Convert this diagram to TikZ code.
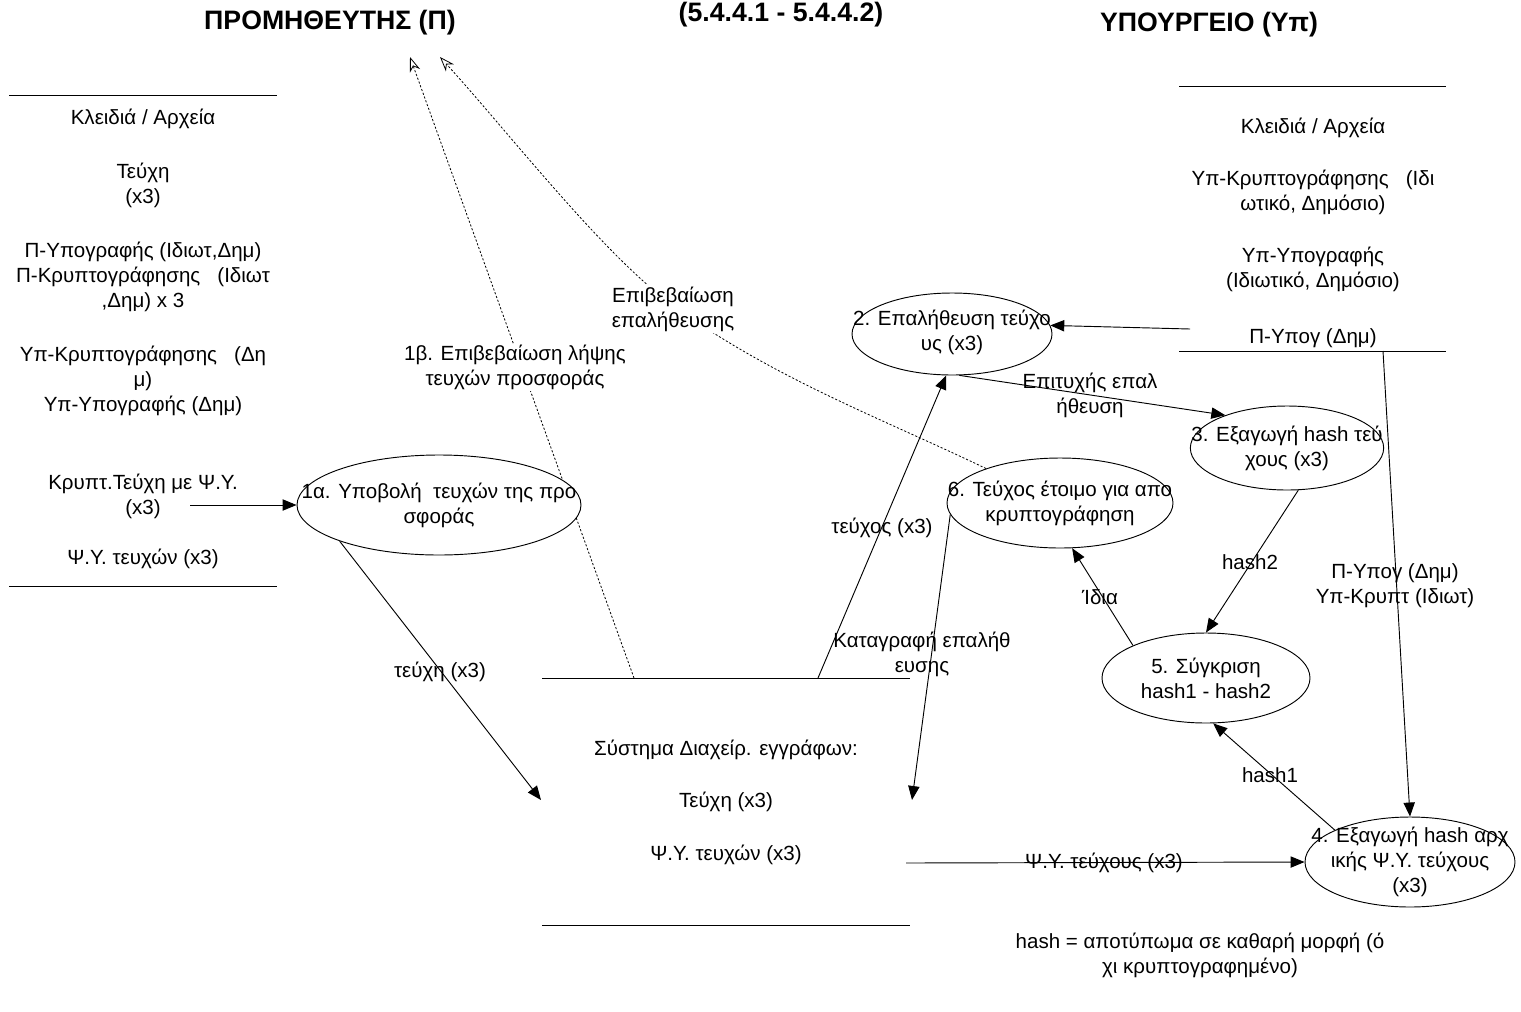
\documentclass[tikz,border=0pt]{standalone}
\usepackage{fontspec}
\setmainfont{Liberation Sans}
\usetikzlibrary{shapes.geometric,arrows.meta}
\tikzset{
  lbl/.style={align=center, inner sep=1pt, font=\fontsize{15.4}{18.75}\selectfont},
  wlbl/.style={lbl, fill=white},
  ttl/.style={anchor=base, inner sep=0pt, font=\bfseries\fontsize{20}{23}\selectfont},
  proc/.style={draw, ellipse, fill=white, inner sep=0pt, line width=0.7pt},
  flow/.style={draw, line width=0.7pt, -{Triangle[length=10.5pt,width=8.5pt]}},
  ack/.style={draw, line width=0.6pt, dash pattern=on 1.6pt off 1.4pt, -{Stealth[open,length=11pt,width=8pt,inset=3.5pt]}},
  store/.style={draw, line width=0.7pt},
}
\begin{document}
\begin{tikzpicture}[x=0.75pt,y=-0.75pt]
\useasboundingbox (0,0) rectangle (1521,1011);
% titles
\node[ttl] (tP) at (330,29) {ΠΡΟΜΗΘΕΥΤΗΣ (Π)};
\node[ttl] (tS) at (781,21) {(5.4.4.1 - 5.4.4.2)};
\node[ttl] (tY) at (1209,31) {ΥΠΟΥΡΓΕΙΟ (Υπ)};
% left store
\coordinate (lsTL) at (9,95); \coordinate (lsTR) at (277,95);
\coordinate (lsBL) at (9,586); \coordinate (lsBR) at (277,586);
\draw[store] (lsTL) -- (lsTR);
\draw[store] (lsBL) -- (lsBR);
\node[lbl] (ls1) at (143,119) {Κλειδιά / Αρχεία};
\node[lbl] (ls2) at (143,185.5) {Τεύχη\\(x3)};
\node[lbl] (ls3) at (143,276.5) {Π-Υπογραφής (Ιδιωτ,Δημ)\\Π-Κρυπτογράφησης\ \ \ (Ιδιωτ\\,Δημ) x 3};
\node[lbl] (ls4) at (143,380.5) {Υπ-Κρυπτογράφησης\ \ \ (Δη\\μ)\\Υπ-Υπογραφής (Δημ)};
\node[lbl] (ls5) at (143,496.5) {Κρυπτ.Τεύχη με Ψ.Υ.\\(x3)};
\node[lbl] (ls6) at (143,559) {Ψ.Υ. τευχών (x3)};
\coordinate (lsOut) at (190,505);
% document management store
\coordinate (dmsTL) at (542,678); \coordinate (dmsTR) at (910,678);
\coordinate (dmsBL) at (542,925); \coordinate (dmsBR) at (910,925);
\draw[store] (dmsTL) -- (dmsTR);
\draw[store] (dmsBL) -- (dmsBR);
\node[lbl] (dms1) at (726,750) {Σύστημα Διαχείρ. εγγράφων:};
\node[lbl] (dms2) at (726,802) {Τεύχη (x3)};
\node[lbl] (dms3) at (726,855) {Ψ.Υ. τευχών (x3)};
\coordinate (dmsUp1) at (634,678);
\coordinate (dmsUp2) at (818,678);
\coordinate (dmsIn1) at (541,800);
\coordinate (dmsIn2) at (912,800);
\coordinate (dmsOut) at (906,863);
% right store
\coordinate (rsTL) at (1179,86); \coordinate (rsTR) at (1446,86);
\coordinate (rsBL) at (1179,351); \coordinate (rsBR) at (1446,351);
\draw[store] (rsTL) -- (rsTR);
\draw[store] (rsBL) -- (rsBR);
\node[lbl] (rs1) at (1313,128) {Κλειδιά / Αρχεία};
\node[lbl] (rs2) at (1313,192.5) {Υπ-Κρυπτογράφησης\ \ \ (Ιδι\\ωτικό, Δημόσιο)};
\node[lbl] (rs3) at (1313,269.5) {Υπ-Υπογραφής\\(Ιδιωτικό, Δημόσιο)};
\node[lbl] (rs4) at (1313,338) {Π-Υπογ (Δημ)};
\coordinate (rsOut1) at (1190,329);
\coordinate (rsOut2) at (1383,351);
% supplier end points of the confirmations
\coordinate (pA) at (410,57);
\coordinate (pB) at (440,57);
% dotted confirmation of receipt (behind ellipse 1a)
\draw[ack] (dmsUp1) -- (pA);
% processes
\node[proc, minimum width=213pt, minimum height=75pt] (e1a) at (439,505) {};
\node[proc, minimum width=150pt, minimum height=61.5pt] (e2) at (952,334) {};
\node[proc, minimum width=145pt, minimum height=63pt] (e3) at (1287,448) {};
\node[proc, minimum width=169.5pt, minimum height=67.5pt] (e6) at (1060,503) {};
\node[proc, minimum width=156pt, minimum height=67.5pt] (e5) at (1206,678) {};
\node[proc, minimum width=157.5pt, minimum height=67.5pt] (e4) at (1410,862) {};
\node[lbl] (t1a) at (439,505) {1α. Υποβολή\ \ τευχών της προ\\σφοράς};
\node[lbl] (t2) at (952,332) {2. Επαλήθευση τεύχο\\υς (x3)};
\node[lbl] (t3) at (1287,448) {3. Εξαγωγή hash τεύ\\χους (x3)};
\node[lbl] (t6) at (1060,503) {6. Τεύχος έτοιμο για απο\\κρυπτογράφηση};
\node[lbl] (t5) at (1206,678) {5. Σύγκριση\\hash1 - hash2};
\node[lbl] (t4) at (1410,862) {4. Εξαγωγή hash αρχ\\ικής Ψ.Υ. τεύχους\\(x3)};
% dotted confirmation of verification
\draw[ack] (e6.155) .. controls (883,419) and (775,379) .. (675,307)
                    .. controls (605,257) and (510,134) .. (pB);
% flows
\draw[flow] (lsOut) -- (e1a.west);
\draw[flow] (e1a.200) -- (dmsIn1);
\draw[flow] (dmsUp2) -- (e2.262);
\draw[flow] (e2.280) -- (e3.152);
\draw[flow] (e6.186) -- (dmsIn2);
\draw[flow] (e3.285) -- (e5.north);
\draw[flow] (e5.156) -- (e6.285);
\draw[flow] (rsOut2) -- (e4.north);
\draw[flow] (dmsOut) -- (e4.west);
\draw[flow] (e4.157) -- (e5.279);
\draw[flow] (rsOut1) -- (e2.5);
% labels
\node[wlbl] (l1b) at (515,367.5) {1β. Επιβεβαίωση λήψης\\τευχών προσφοράς};
\node[wlbl] (lver) at (673,309) {Επιβεβαίωση\\επαλήθευσης};
\node[lbl] (lteuxh) at (440,672) {τεύχη (x3)};
\node[lbl] (lteuxos) at (882,528) {τεύχος (x3)};
\node[lbl] (lkat) at (922,654.5) {Καταγραφή επαλήθ\\ευσης};
\node[lbl] (lepit) at (1090,395.5) {Επιτυχής επαλ\\ήθευση};
\node[lbl] (lh2) at (1250,562) {hash2};
\node[lbl] (lidia) at (1100,597) {Ίδια};
\node[lbl] (lh1) at (1270,775) {hash1};
\node[lbl] (lpsy) at (1104,863) {Ψ.Υ. τεύχους (x3)};
\node[lbl] (lkeys) at (1395,585.5) {Π-Υπογ (Δημ)\\Υπ-Κρυπτ (Ιδιωτ)};
\node[lbl] (note) at (1200,955.5) {hash = αποτύπωμα σε καθαρή μορφή (ό\\χι κρυπτογραφημένο)};
\end{tikzpicture}
\end{document}
